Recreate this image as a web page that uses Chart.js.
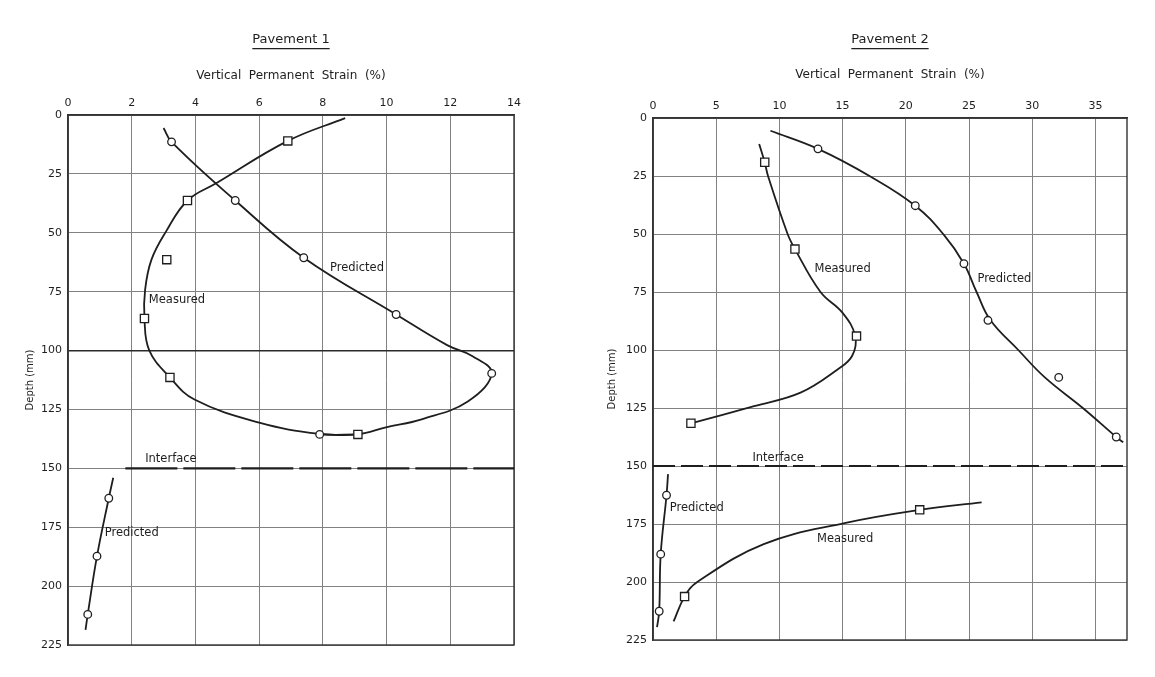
<!DOCTYPE html>
<html>
<head>
<meta charset="utf-8">
<script src="https://cdn.jsdelivr.net/npm/chart.js@4.4.0/dist/chart.umd.min.js"></script>
<style>
  html, body { margin: 0; padding: 0; background: #fff; }
  #wrap { position: relative; width: 1155px; height: 677px; overflow: hidden; }
  canvas { position: absolute; top: 0; }
  #chart1 { left: 0; }
  #chart2 { left: 580px; }
</style>
</head>
<body>
<div id="wrap">
  <canvas id="chart1" width="560" height="677"></canvas>
  <canvas id="chart2" width="575" height="677"></canvas>
</div>
<script>
// [strain %, depth mm]
const p1MeasuredPoints = [[6.9, 11], [3.75, 36.3], [3.1, 61.4], [2.4, 86.4], [3.2, 111.4], [9.1, 135.6]]
const p1MeasuredCurve = [[8.7, 1.3], [6.9, 11], [4.65, 29], [3.75, 36.3], [3.08, 49.4], [2.62, 61.4],
  [2.42, 74.2], [2.4, 86.4], [2.55, 99.9], [3.2, 111.4], [3.97, 120.8], [5.97, 130.5], [7.9, 135.4], [9.1, 135.6]]
const p1PredictedPoints = [[3.25, 11.4], [5.25, 36.3], [7.4, 60.6], [10.3, 84.7], [13.3, 109.7], [7.9, 135.6]]
const p1PredictedCurve = [[3.0, 5.5], [3.25, 11.4], [5.25, 36.3], [7.4, 60.6], [10.3, 84.7], [11.9, 97.7], [12.7, 102.4],
  [13.3, 109.7], [12.55, 121.6], [11.1, 129.2], [9.98, 132.6], [9.1, 135.6], [7.9, 135.6]]
const p1PredictedLowerPoints = [[1.28, 162.7], [0.91, 187.3], [0.62, 212]]
const p1PredictedLowerCurve = [[1.42, 154], [1.28, 162.7], [0.91, 187.3], [0.62, 212], [0.55, 218.6]]
const p1Interface = [[1.8, 150], [14, 150]]
const p1Labels = [
  { text: "Predicted", x: 9.07, y: 65 },
  { text: "Measured", x: 3.42, y: 78.7 },
  { text: "Interface", x: 3.23, y: 146.2 },
  { text: "Predicted", x: 2.0, y: 177.5 },
]

const p2MeasuredPoints = [[8.84, 19.1], [11.23, 56.5], [16.1, 94], [3.0, 131.6]]
const p2MeasuredCurve = [[8.4, 11.2], [8.84, 19.1], [9.1, 25], [10.65, 50], [11.23, 56.5], [13.25, 75],
  [15.0, 84], [16.0, 94], [15.75, 102.6], [14.6, 108.4], [11.67, 118.4], [8.0, 124.2], [3.0, 131.6]]
const p2PredictedPoints = [[13.05, 13.3], [20.75, 37.8], [24.6, 62.8], [26.5, 87.2], [32.1, 111.8], [36.65, 137.5]]
const p2PredictedCurve = [[9.29, 5.5], [13.05, 13.3], [17.2, 25.2], [20.75, 37.8], [23.0, 50.3], [24.6, 62.8], [25.6, 75],
  [26.7, 87.2], [28.9, 100], [31.0, 111.8], [34.05, 125.2], [36.65, 137.5], [37.2, 139.8]]
const p2PredictedLowerPoints = [[1.07, 162.6], [0.61, 188], [0.49, 212.6]]
const p2PredictedLowerCurve = [[1.19, 153.5], [1.07, 162.6], [0.61, 188], [0.49, 212.6], [0.32, 219.5]]
const p2MeasuredLowerPoints = [[21.1, 168.9], [2.5, 206.3]]
const p2MeasuredLowerCurve = [[26.0, 165.7], [21.1, 168.9], [15.15, 174.6], [8.76, 183.7], [3.5, 200], [2.5, 206.3], [1.63, 217]]
const p2Interface = [[0, 150], [37.5, 150]]
const p2Labels = [
  { text: "Measured", x: 15.0, y: 65 },
  { text: "Predicted", x: 27.8, y: 69.2 },
  { text: "Interface", x: 9.9, y: 146.7 },
  { text: "Predicted", x: 3.46, y: 167.9 },
  { text: "Measured", x: 15.2, y: 181.5 },
]

const depthTicks = { min: 0, max: 225, step: 25 }
const FONT = '"DejaVu Sans", sans-serif'
const INK = "#1e1e1e"
const GRID = "#828282"

const xy = (arr) => arr.map(([x, y]) => ({ x, y }))

const sketch = {
  id: "sketch",
  beforeDatasetsDraw(chart) {
    const { ctx, chartArea: a } = chart
    ctx.save()
    ctx.strokeStyle = "#333"
    ctx.lineWidth = 1.4
    ctx.strokeRect(a.left, a.top, a.right - a.left, a.bottom - a.top)
    ctx.restore()
  },
  afterDatasetsDraw(chart, args, opts) {
    const { ctx, scales: { x, y } } = chart
    ctx.save()
    ctx.fillStyle = INK
    ctx.font = "11.5px " + FONT
    ctx.textAlign = "center"
    ctx.textBaseline = "middle"
    for (const l of opts.labels) ctx.fillText(l.text, x.getPixelForValue(l.x), y.getPixelForValue(l.y))
    // underline under the title
    const t = chart.titleBlock
    ctx.font = "13px " + FONT
    const w = ctx.measureText(t.options.text).width
    const cx = (t.left + t.right) / 2
    const ly = t.top + t._padding.top + (t.height - t._padding.height) + 1
    ctx.strokeStyle = INK
    ctx.lineWidth = 1.2
    ctx.beginPath()
    ctx.moveTo(cx - w / 2, ly)
    ctx.lineTo(cx + w / 2, ly)
    ctx.stroke()
    ctx.restore()
  }
}

class PavementChart {
  constructor(id, cfg) {
    this.cfg = cfg
    this.canvas = document.getElementById(id)
    this.chart = new Chart(this.canvas, this.build())
  }

  marks(data, style, radius) {
    return {
      data: xy(data), showLine: false, pointStyle: style, pointRadius: radius,
      pointBackgroundColor: "#fff", pointBorderColor: INK, pointBorderWidth: 1.3
    }
  }

  curve(data) {
    return { data: xy(data), tension: 0.4, borderColor: INK, borderWidth: 1.8, pointRadius: 0, fill: false }
  }

  build() {
    const c = this.cfg
    const bold = c.boldDepth || []
    const datasets = []
    for (const p of c.squares) datasets.push(this.marks(p, "rect", 5.8))
    for (const p of c.circles) datasets.push(this.marks(p, "circle", 3.8))
    for (const p of c.curves) datasets.push(this.curve(p))
    datasets.push({ data: xy(c.interface), borderColor: INK, borderWidth: 2.2,
      borderDash: c.dash, pointRadius: 0, tension: 0, fill: false })

    return {
      type: "line",
      data: { datasets },
      options: {
        responsive: false,
        animation: false,
        layout: { padding: c.padding },
        plugins: {
          legend: { display: false },
          tooltip: { enabled: false },
          title: { display: true, text: c.title, fullSize: false, color: INK,
            font: { family: FONT, size: 13, weight: "normal" }, padding: { top: 32, bottom: 4 } },
          sketch: { labels: c.labels },
        },
        scales: {
          x: {
            type: "linear", position: "top", min: 0, max: c.xMax,
            ticks: { stepSize: c.xStep, padding: 5, color: INK, font: { family: FONT, size: 11 }, includeBounds: false },
            grid: { color: GRID, lineWidth: 1, drawTicks: false },
            border: { color: "#333", width: 1.4 },
            title: { display: true, text: "Vertical  Permanent  Strain  (%)", color: INK,
              font: { family: FONT, size: 12 }, padding: { top: c.xTitlePad, bottom: 0 } },
            afterFit: (s) => { s.height = c.xHeight },
          },
          y: {
            type: "linear", reverse: true, min: depthTicks.min, max: depthTicks.max,
            ticks: { stepSize: depthTicks.step, padding: 6, color: INK, font: { family: FONT, size: 11 } },
            grid: {
              drawTicks: false,
              color: (g) => bold.includes(g.tick && g.tick.value) ? "#2a2a2a" : GRID,
              lineWidth: (g) => bold.includes(g.tick && g.tick.value) ? 1.6 : 1,
            },
            border: { color: "#333", width: 1.4 },
            title: { display: true, text: "Depth (mm)", color: INK,
              font: { family: FONT, size: 10 }, padding: { top: c.yTitlePad, bottom: 0 } },
            afterFit: (s) => { s.width = c.yWidth },
          },
        },
      },
      plugins: [sketch],
    }
  }
}

new PavementChart("chart1", {
  title: "Pavement 1", xMax: 14, xStep: 2,
  padding: { left: 0, right: 46, top: 0, bottom: 32 },
  xHeight: 63.4, xTitlePad: 17.2, yWidth: 68, yTitlePad: 24,
  boldDepth: [100],
  squares: [p1MeasuredPoints],
  circles: [p1PredictedPoints, p1PredictedLowerPoints],
  curves: [p1MeasuredCurve, p1PredictedCurve, p1PredictedLowerCurve],
  interface: p1Interface, dash: [52, 6],
  labels: p1Labels,
})

new PavementChart("chart2", {
  title: "Pavement 2", xMax: 37.5, xStep: 5,
  padding: { left: 0, right: 28, top: 0, bottom: 37 },
  xHeight: 66.4, xTitlePad: 16.2, yWidth: 73, yTitlePad: 26,
  squares: [p2MeasuredPoints, p2MeasuredLowerPoints],
  circles: [p2PredictedPoints, p2PredictedLowerPoints],
  curves: [p2MeasuredCurve, p2PredictedCurve, p2PredictedLowerCurve, p2MeasuredLowerCurve],
  interface: p2Interface, dash: [22, 6],
  labels: p2Labels,
})
</script>
</body>
</html>
